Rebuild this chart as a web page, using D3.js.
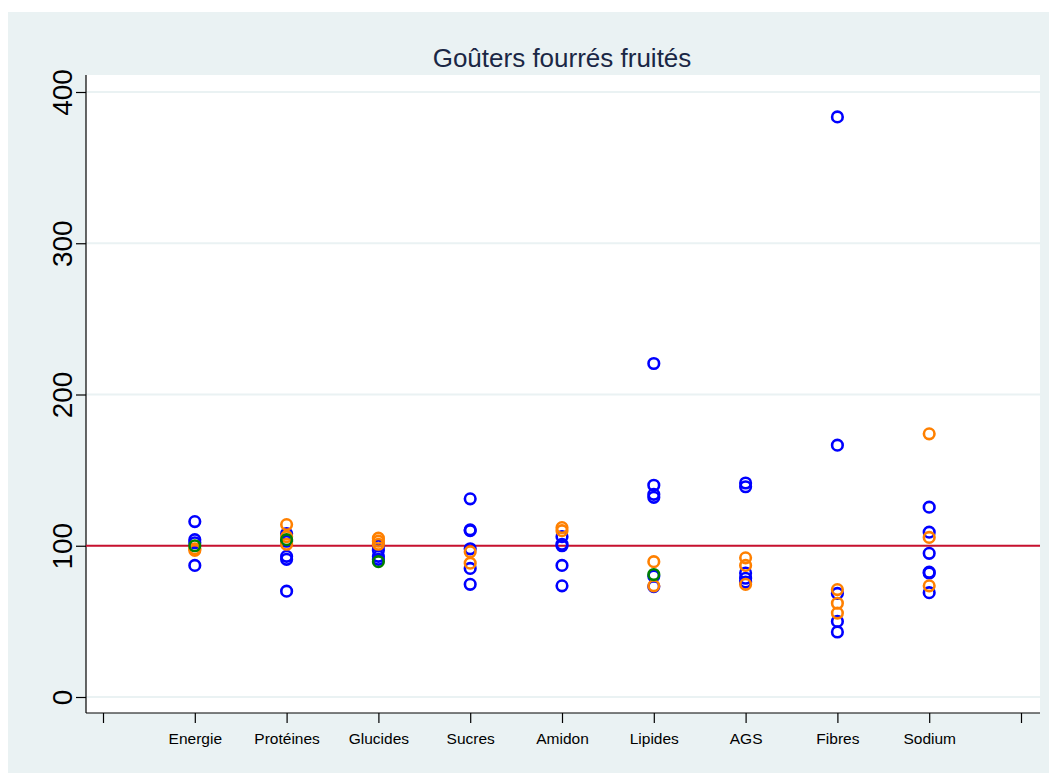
<!DOCTYPE html>
<html>
<head>
<meta charset="utf-8">
<script src="https://cdn.jsdelivr.net/npm/d3@7"></script>
<style>
  body { margin: 0; background: #fff; }
  svg { display: block; }
</style>
</head>
<body>
<svg id="chart" width="1049" height="776"></svg>
<script>
// categories on the x axis (positions 1..9)
const categories = ["Energie", "Protéines", "Glucides", "Sucres", "Amidon", "Lipides", "AGS", "Fibres", "Sodium"];
const yTicks = [0, 100, 200, 300, 400];

// values per category, one array per marker colour
const blueValues = [
  [116, 104, 102, 87],
  [108, 103, 93, 91, 70],
  [100, 97, 93, 91],
  [131, 110.5, 110, 98, 85, 74.5],
  [106, 101, 100, 87, 73.5],
  [220.5, 140, 134, 132, 80, 73],
  [141.5, 139, 82, 78.5, 76],
  [383.5, 166.5, 68.5, 50, 43],
  [125.5, 109, 95, 82.5, 82, 69]
];
const orangeValues = [
  [98, 97],
  [114, 106, 101],
  [105, 103, 101],
  [96, 88.5],
  [112, 110],
  [89.5, 73.5],
  [92, 87, 74.5],
  [71, 62, 55.5],
  [174, 105.5, 73.5]
];
const greenValues = [
  [100],
  [104],
  [89.5],
  [],
  [],
  [81],
  [],
  [],
  []
];
const refValue = 100;

const svg = d3.select("#chart");

// outer background
svg.append("rect")
  .attr("x", 8).attr("y", 12)
  .attr("width", 1041).attr("height", 761)
  .attr("fill", "#eaf2f3");

const plot = {left: 86, right: 1040, top: 75, bottom: 713};

svg.append("rect")
  .attr("x", plot.left).attr("y", plot.top)
  .attr("width", plot.right - plot.left).attr("height", plot.bottom - plot.top)
  .attr("fill", "#fff");

const x = d3.scaleLinear().domain([0, 10]).range([103, 1021]);
const y = d3.scaleLinear().domain([0, 400]).range([697, 92]);

// gridlines
svg.append("g")
  .selectAll("line")
  .data(yTicks)
  .join("line")
  .attr("x1", plot.left).attr("x2", plot.right)
  .attr("y1", d => y(d)).attr("y2", d => y(d))
  .attr("stroke", "#eaf2f3")
  .attr("stroke-width", 2);

// y axis
const yAxis = svg.append("g")
  .attr("transform", `translate(${plot.left},0)`)
  .call(d3.axisLeft(y).tickValues(yTicks).tickSize(10).tickSizeOuter(0).tickFormat(d3.format("d")));
yAxis.select(".domain").attr("d", `M0,${plot.top}V${plot.bottom}`).attr("stroke", "#000").attr("stroke-width", 1.2);
yAxis.selectAll(".tick line").attr("stroke", "#000").attr("stroke-width", 1.2);
yAxis.selectAll(".tick text")
  .attr("x", 0).attr("dy", 0)
  .attr("transform", "translate(-14,0) rotate(-90)")
  .attr("text-anchor", "middle")
  .style("font-family", "Arial, 'Liberation Sans', sans-serif")
  .style("font-size", "28px")
  .attr("fill", "#000");

// x axis
const xAxis = svg.append("g")
  .attr("transform", `translate(0,${plot.bottom})`)
  .call(d3.axisBottom(x).tickValues(d3.range(0, 11)).tickSize(10).tickSizeOuter(0)
    .tickFormat(d => (d >= 1 && d <= 9) ? categories[d - 1] : ""));
xAxis.select(".domain").attr("d", `M${plot.left},0H${plot.right}`).attr("stroke", "#000").attr("stroke-width", 1.2);
xAxis.selectAll(".tick line").attr("stroke", "#000").attr("stroke-width", 1.2);
xAxis.selectAll(".tick text")
  .attr("y", 20)
  .style("font-family", "Arial, 'Liberation Sans', sans-serif")
  .style("font-size", "15.5px")
  .attr("fill", "#000");

// reference line
svg.append("line")
  .attr("x1", plot.left).attr("x2", plot.right)
  .attr("y1", y(refValue)).attr("y2", y(refValue))
  .attr("stroke", "#c8102e")
  .attr("stroke-width", 2);

function drawSeries(values, color) {
  const pts = [];
  values.forEach((arr, i) => arr.forEach(v => pts.push({c: i + 1, v: v})));
  svg.append("g")
    .selectAll("circle")
    .data(pts)
    .join("circle")
    .attr("cx", d => x(d.c))
    .attr("cy", d => y(d.v))
    .attr("r", 5.3)
    .attr("fill", "none")
    .attr("stroke", color)
    .attr("stroke-width", 2.6);
}

drawSeries(blueValues, "#0000ff");
drawSeries(orangeValues, "#ff8000");
drawSeries(greenValues, "#008000");

// title
svg.append("text")
  .attr("x", 562).attr("y", 67)
  .attr("text-anchor", "middle")
  .style("font-family", "Arial, 'Liberation Sans', sans-serif")
  .style("font-size", "26px")
  .attr("fill", "#1a2745")
  .text("Goûters fourrés fruités");
</script>
</body>
</html>
